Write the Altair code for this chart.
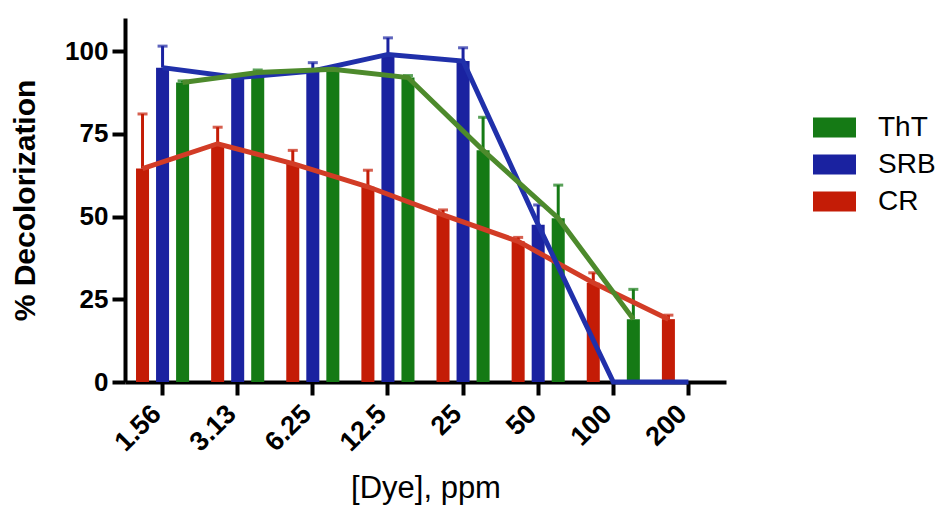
import altair as alt
import pandas as pd

doses = ["1.56", "3.13", "6.25", "12.5", "25", "50", "100", "200"]

cr_vals = [64.5, 72, 66, 59, 50.5, 42.5, 30, 19]
cr_err = [16.5, 5, 4, 5, 1.5, 1.2, 3, 1.2]

srb_vals = [95, 92, 94, 99, 97, 47.5, 0, 0]
srb_err = [6.5, 0.6, 2.5, 5, 4, 6, 0, 0]

tht_vals = [90.5, 93.5, 94.5, 92, 70, 49.5, 19]
tht_err = [0.5, 0.8, 0.6, 0.6, 10, 10, 9]

series_order = ["CR", "SRB", "ThT"]
legend_order = ["ThT", "SRB", "CR"]
bar_colors = ["#157a15", "#1a22a0", "#c41c06"]
line_colors = ["#4d8a2c", "#2030aa", "#d23c26"]

rows = []
for name, vals, errs in [("CR", cr_vals, cr_err), ("SRB", srb_vals, srb_err), ("ThT", tht_vals, tht_err)]:
    for d, v, e in zip(doses, vals, errs):
        rows.append({"dose": d, "series": name, "value": v, "err": e, "top": v + e})
df = pd.DataFrame(rows)

x_enc = alt.X("dose:N", sort=doses,
              scale=alt.Scale(paddingInner=0, paddingOuter=0),
              axis=alt.Axis(title="[Dye], ppm", labelAngle=-45, labelFontSize=27,
                            labelFontWeight="bold", labelBaseline="alphabetic",
                            titleFontSize=31, titleFontWeight="normal",
                            titlePadding=18, labelPadding=20))
xoff = alt.XOffset("series:N", sort=series_order,
                   scale=alt.Scale(domain=series_order, paddingInner=0.35, paddingOuter=0.55))
y_scale = alt.Scale(domain=[0, 110], nice=False)
y_enc = alt.Y("value:Q", scale=y_scale,
              axis=alt.Axis(title="% Decolorization", values=[0, 25, 50, 75, 100],
                            labelFontSize=26, labelFontWeight="bold", titleFontSize=30,
                            titleFontWeight="bold", titlePadding=24, labelPadding=4))
color_enc = alt.Color("series:N", scale=alt.Scale(domain=legend_order, range=bar_colors),
                      legend=alt.Legend(title=None, orient="none", legendX=688, legendY=88,
                                        labelFontSize=28, labelFont="Liberation Sans",
                                        symbolType="M-1,-0.465H1V0.465H-1Z",
                                        symbolSize=1849, symbolStrokeWidth=0,
                                        symbolOpacity=1, labelOffset=22, rowPadding=1))

base = alt.Chart(df)

bars = base.mark_bar(opacity=1).encode(x=x_enc, xOffset=xoff, y=y_enc, color=color_enc)

err_df = df[df["err"] > 0]
rules = alt.Chart(err_df).mark_rule(strokeWidth=3).encode(
    x=alt.X("dose:N", sort=doses), xOffset=xoff,
    y=alt.Y("value:Q", scale=y_scale), y2="top:Q",
    color=alt.Color("series:N", legend=None))
caps = alt.Chart(err_df).mark_tick(thickness=3, size=10).encode(
    x=alt.X("dose:N", sort=doses), xOffset=xoff,
    y=alt.Y("top:Q", scale=y_scale),
    color=alt.Color("series:N", legend=None))

lines = base.mark_line(strokeWidth=5).encode(
    x=alt.X("dose:N", sort=doses), xOffset=xoff,
    y=alt.Y("value:Q", scale=y_scale),
    stroke=alt.Stroke("series:N", scale=alt.Scale(domain=legend_order, range=line_colors), legend=None),
    detail="series:N")

chart = alt.layer(bars, rules, caps, lines).properties(
    width=601, height=364,
    autosize=alt.AutoSizeParams(type="none"),
    padding={"left": 117, "top": 10, "right": 217, "bottom": 123},
).configure_view(stroke=None).configure_axis(
    grid=False, domainColor="black", domainWidth=4, tickColor="black", tickWidth=4,
    tickSize=13, labelColor="black", titleColor="black", labelFont="Liberation Sans",
    titleFont="Liberation Sans"
)

chart.save("out.html", embed_options={"renderer": "svg", "actions": False})
